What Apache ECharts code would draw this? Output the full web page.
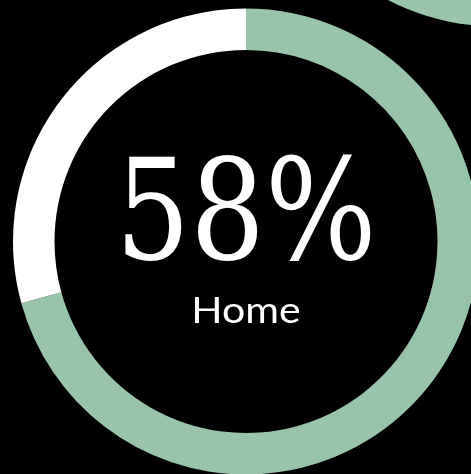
<!DOCTYPE html>
<html>
<head>
<meta charset="utf-8">
<script src="https://cdn.jsdelivr.net/npm/echarts@6/dist/echarts.min.js"></script>
<style>
  html, body { margin: 0; padding: 0; background: #000; }
  #chart { width: 471px; height: 474px; }
</style>
</head>
<body>
<div id="chart"></div>
<script>
// Share of the ring: highlighted part and the rest
const categories = ['Home', 'Other'];
const values = [58, 24];
const labelValue = 58;
const labelName = 'Home';
// Neighbouring ring peeking in at the corner
const neighbourValues = [100];

const GREEN = '#97c4aa';
const WHITE = '#ffffff';

const chart = echarts.init(document.getElementById('chart'), null, { renderer: 'canvas' });

chart.setOption({
  backgroundColor: '#000000',
  animation: false,
  series: [
    {
      type: 'pie',
      silent: true,
      center: [246, 241.5],
      radius: [191.5, 233],
      startAngle: 90,
      clockwise: true,
      label: { show: false },
      labelLine: { show: false },
      itemStyle: { borderWidth: 0 },
      data: categories.map((c, i) => ({
        name: c,
        value: values[i],
        itemStyle: { color: i === 0 ? GREEN : WHITE }
      }))
    },
    {
      type: 'pie',
      silent: true,
      center: [493, -199],
      radius: [184, 225],
      label: { show: false },
      labelLine: { show: false },
      data: neighbourValues.map(v => ({ value: v, itemStyle: { color: GREEN } }))
    }
  ],
  graphic: [
    {
      // big percentage, set at a small size and scaled up
      type: 'text',
      x: 246,
      y: 222,
      scaleX: 2.35,
      scaleY: 2.82,
      style: {
        text: labelValue + '%',
        fill: '#ffffff',
        fontSize: 50,
        fontFamily: 'DejaVu Serif',
        textAlign: 'center',
        verticalAlign: 'middle'
      }
    },
    {
      type: 'text',
      x: 246,
      y: 311,
      scaleX: 1.14,
      scaleY: 1,
      style: {
        text: labelName,
        fill: '#ffffff',
        fontSize: 36,
        fontFamily: 'Lato',
        textAlign: 'center',
        verticalAlign: 'middle'
      }
    }
  ]
});
</script>
</body>
</html>
